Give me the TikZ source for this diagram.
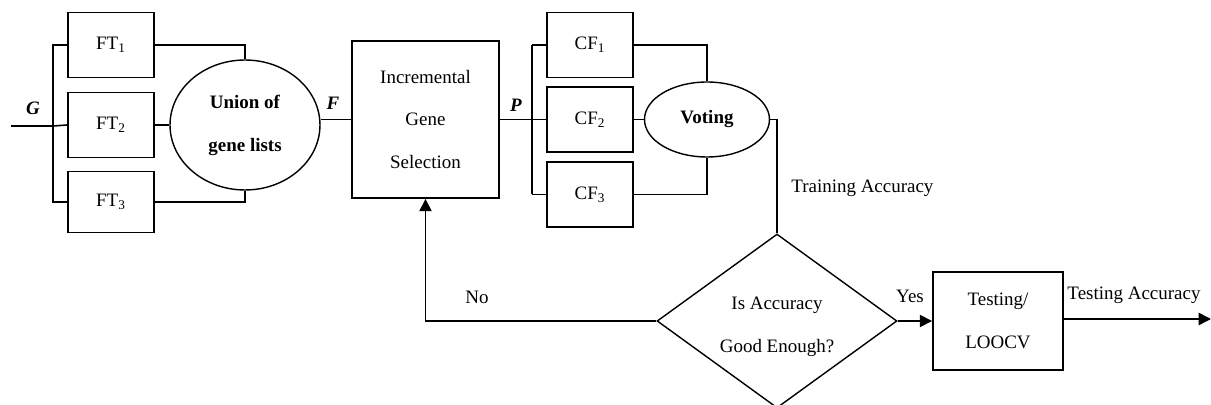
\documentclass[tikz,border=0pt]{standalone}
\usepackage{fontspec}
\setmainfont{Liberation Serif}
\usetikzlibrary{shapes.geometric,arrows.meta,calc}

\tikzset{
  txt/.style={font=\fontsize{10.8pt}{24.4pt}\selectfont, inner sep=0pt, align=center},
  blk/.style={draw, line width=1.1pt, inner sep=0pt, txt},
  small/.style={blk, minimum width=1.72cm, minimum height=1.3cm},
  oval/.style={draw, ellipse, line width=0.8pt, inner sep=0pt, txt},
  wire/.style={line width=0.9pt},
  arr/.style={wire, -{Triangle[length=7pt,width=7pt]}},
  lbl/.style={txt},
  sym/.style={lbl, font=\fontsize{10.8pt}{13pt}\selectfont\bfseries\itshape},
}

\begin{document}
\begin{tikzpicture}[x=0.02cm, y=-0.02cm]
  \useasboundingbox (0,0) rectangle (1211,405);
  \clip (0,0) rectangle (1211,405);

  % feature selection stage
  \node[small] (ft1) at (111,45)  {FT\textsubscript{1}};
  \node[small] (ft2) at (111,125) {FT\textsubscript{2}};
  \node[small, minimum height=1.22cm] (ft3) at (111,202) {FT\textsubscript{3}};
  \node[oval, minimum width=3cm, minimum height=2.6cm] (union) at (245,125)
       {\textbf{Union of}\\\textbf{gene lists}};

  % incremental selection
  \node[blk, minimum width=2.94cm, minimum height=3.14cm] (igs) at (425.5,119.5)
       {Incremental\\Gene\\Selection};

  % classifier stage
  \node[small] (cf1) at (590,45)    {CF\textsubscript{1}};
  \node[small] (cf2) at (590,119.5) {CF\textsubscript{2}};
  \node[small] (cf3) at (590,194.5) {CF\textsubscript{3}};
  \node[oval, minimum width=2.5cm, minimum height=1.5cm] (vote) at (707,119.5)
       {\textbf{Voting}};

  % decision and testing
  \node[diamond, draw, line width=0.8pt, inner sep=0pt,
        minimum width=4.8cm, minimum height=3.48cm] (dec) at (777,321) {};
  \node[txt] (dectxt) at (777,327) {Is Accuracy\\Good Enough?};
  \node[blk, minimum width=2.6cm, minimum height=1.96cm] (test) at (998,321)
       {Testing/\\LOOCV};

  % bus coordinates
  \coordinate (in) at (11,126);
  \coordinate (busg) at (53,126);
  \coordinate (busp) at (532,119.5);
  \coordinate (out) at (1211,319);

  % input G to the three feature tools
  \draw[wire] (in) -- (busg);
  \draw[wire] (busg) |- (ft1.west);
  \draw[wire] (busg) |- (ft3.west);
  \draw[wire] (busg) -- (ft2.west);

  % feature tools to union
  \draw[wire] (ft1.east) -| (union.north);
  \draw[wire] (ft3.east) -| (union.south);
  \draw[wire] (ft2.east) -- (ft2.east -| union.west);

  % union to incremental selection
  \draw[wire] (union.east |- igs.west) -- (igs.west);

  % selection to classifiers
  \draw[wire] (igs.east) -- (busp);
  \draw[wire] (busp |- cf1.west) -- (busp |- cf3.west);
  \draw[wire] (busp |- cf1.west) -- (cf1.west);
  \draw[wire] (busp |- cf3.west) -- (cf3.west);
  \draw[wire] (busp) -- (cf2.west);

  % classifiers to voting
  \draw[wire] (cf1.east) -| (vote.north);
  \draw[wire] (cf3.east) -| (vote.south);
  \draw[wire] (cf2.east) -- (vote.west);

  % voting to decision
  \draw[wire] (vote.east) -| (dec.north);

  % decision branches
  \draw[arr] (dec.west) -| (igs.south);
  \draw[arr] (dec.east) -- (dec.east -| test.west);
  \draw[arr] (test.east |- out) -- (out);

  % labels
  \node[sym] (lg) at (33,108) {G};
  \node[sym] (lf) at (333,103) {F};
  \node[sym] (lp) at (516,105) {P};
  \node[lbl, anchor=west] (ltrain) at (791,188) {Training Accuracy};
  \node[lbl] (lno) at (477,297) {No};
  \node[lbl] (lyes) at (910,296) {Yes};
  \node[lbl] (ltest) at (1134,295) {Testing Accuracy};
\end{tikzpicture}
\end{document}
